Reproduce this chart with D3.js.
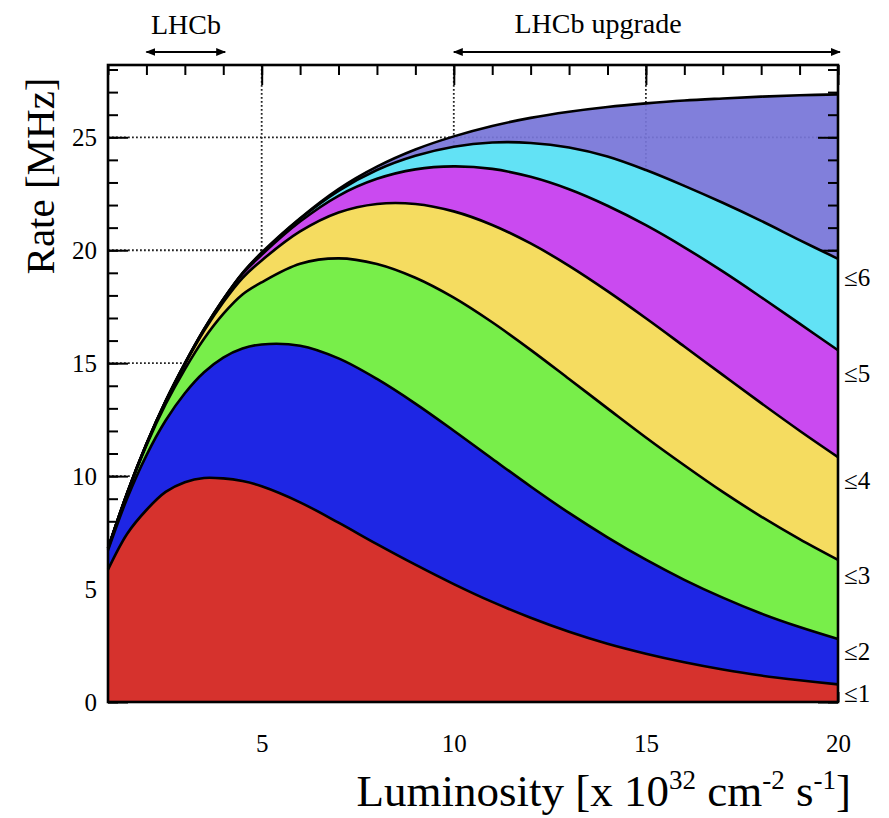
<!doctype html>
<html>
<head>
<meta charset="utf-8">
<title>LHCb rate vs luminosity</title>
<script src="https://cdn.jsdelivr.net/npm/d3@7"></script>
<style>
  html, body { margin: 0; padding: 0; background: #fff; }
  svg { display: block; }
  svg text { font-family: "Liberation Serif", "Times New Roman", Tinos, "DejaVu Serif", serif; fill: #000; }
</style>
</head>
<body>
<svg width="889" height="818"></svg>
<script>
// luminosity [x 10^32 cm^-2 s^-1]
const lumi = [1, 1.5, 2, 2.5, 3, 3.5, 4, 4.5, 5, 6, 7, 8, 9, 10, 11, 12, 13, 14, 15, 16, 17, 18, 19, 20];

// cumulative rates [MHz]
const rateLe1 = [5.86, 7.45, 8.50, 9.30, 9.73, 9.92, 9.90, 9.78, 9.55, 8.84, 7.94, 6.99, 6.08, 5.22, 4.43, 3.73, 3.11, 2.58, 2.14, 1.76, 1.44, 1.17, 0.96, 0.78];
const rateLe2 = [6.71, 9.02, 10.92, 12.46, 13.67, 14.60, 15.25, 15.65, 15.83, 15.77, 15.21, 14.30, 13.21, 12.01, 10.77, 9.54, 8.37, 7.29, 6.30, 5.41, 4.62, 3.92, 3.32, 2.79];
const rateLe3 = [6.79, 9.23, 11.36, 13.18, 14.73, 16.08, 17.18, 18.04, 18.58, 19.40, 19.64, 19.39, 18.78, 17.90, 16.81, 15.59, 14.30, 13.00, 11.71, 10.48, 9.30, 8.21, 7.21, 6.29];
const rateLe4 = [6.80, 9.26, 11.42, 13.30, 14.95, 16.43, 17.70, 18.77, 19.55, 20.83, 21.67, 22.05, 22.05, 21.72, 21.12, 20.30, 19.31, 18.19, 16.99, 15.74, 14.48, 13.23, 12.01, 10.84];
const rateLe5 = [6.80, 9.26, 11.42, 13.32, 14.98, 16.49, 17.81, 18.95, 19.80, 21.27, 22.41, 23.16, 23.58, 23.71, 23.60, 23.25, 22.70, 21.97, 21.11, 20.13, 19.06, 17.92, 16.75, 15.57];
const rateLe6 = [6.80, 9.26, 11.42, 13.32, 14.99, 16.50, 17.83, 18.98, 19.86, 21.39, 22.63, 23.55, 24.18, 24.58, 24.77, 24.75, 24.55, 24.15, 23.55, 22.85, 22.10, 21.30, 20.45, 19.62];
const rateAll = [6.80, 9.26, 11.42, 13.32, 14.99, 16.51, 17.83, 18.99, 19.90, 21.42, 22.71, 23.70, 24.46, 25.04, 25.50, 25.86, 26.13, 26.34, 26.50, 26.63, 26.72, 26.80, 26.86, 26.90];

const bandLabels = ["\u22641", "\u22642", "\u22643", "\u22644", "\u22645", "\u22646"];
const bandLabelRate = [0.4, 2.25, 5.6, 9.8, 14.55, 18.8];
const xTickLabels = [5, 10, 15, 20];
const yTickLabels = [0, 5, 10, 15, 20, 25];

const svg = d3.select("svg");
const frame = { left: 108, right: 838, top: 65, bottom: 702 };

const x = d3.scaleLinear().domain([1, 20]).range([frame.left, frame.right]);
const y = d3.scaleLinear().domain([0, 28.2]).range([frame.bottom, frame.top]);

const series = [
    { values: rateAll, color: "#7775d8" },
    { values: rateLe6, color: "#62e2f5" },
    { values: rateLe5, color: "#ca4af0" },
    { values: rateLe4, color: "#f5dc60" },
    { values: rateLe3, color: "#78ee4a" },
    { values: rateLe2, color: "#1e26e4" },
    { values: rateLe1, color: "#d6322d" }
];

const curve = d3.curveCatmullRom.alpha(0.5);
const area = d3.area()
    .x((d, i) => x(lumi[i]))
    .y0(y(0))
    .y1(d => y(d))
    .curve(curve);
const line = d3.line()
    .x((d, i) => x(lumi[i]))
    .y(d => y(d))
    .curve(curve);

// dotted grid
const grid = svg.append("g").attr("stroke", "#222").attr("stroke-width", 1.8).attr("stroke-dasharray", "1.8,2.2");
[5, 10, 15].forEach(v => {
    grid.append("line").attr("x1", x(v)).attr("x2", x(v)).attr("y1", frame.top).attr("y2", frame.bottom);
});
[5, 10, 15, 20, 25].forEach(v => {
    grid.append("line").attr("x1", frame.left).attr("x2", frame.right).attr("y1", y(v)).attr("y2", y(v));
});

// outer band first, so that the grid just shows through it
svg.append("path").datum(series[0].values).attr("d", area)
    .attr("fill", series[0].color).attr("fill-opacity", 0.93);

// inward ticks on all four sides
function ticks(axis, tx, ty) {
    const g = svg.append("g").attr("transform", "translate(" + tx + "," + ty + ")").call(axis);
    g.select(".domain").remove();
    g.selectAll("line").attr("stroke", "#000").attr("stroke-width", 2);
}
const xMinor = d3.range(1, 21), xMajor = [5, 10, 15, 20];
const yMinor = d3.range(0, 29), yMajor = [0, 5, 10, 15, 20, 25];
ticks(d3.axisBottom(x).tickValues(xMinor).tickSize(10).tickFormat(""), 0, frame.top);
ticks(d3.axisBottom(x).tickValues(xMajor).tickSize(20).tickFormat(""), 0, frame.top);
ticks(d3.axisTop(x).tickValues(xMinor).tickSize(10).tickFormat(""), 0, frame.bottom);
ticks(d3.axisRight(y).tickValues(yMinor).tickSize(10).tickFormat(""), frame.left, 0);
ticks(d3.axisRight(y).tickValues(yMajor).tickSize(20).tickFormat(""), frame.left, 0);
ticks(d3.axisLeft(y).tickValues(yMinor).tickSize(10).tickFormat(""), frame.right, 0);
ticks(d3.axisLeft(y).tickValues(yMajor).tickSize(20).tickFormat(""), frame.right, 0);

// remaining bands, outermost to innermost
series.slice(1).forEach(s => {
    svg.append("path").datum(s.values).attr("d", area).attr("fill", s.color);
});

// black curves
series.forEach(s => {
    svg.append("path").datum(s.values).attr("d", line)
        .attr("fill", "none").attr("stroke", "#000").attr("stroke-width", 2.6);
});

// frame
svg.append("rect")
    .attr("x", frame.left).attr("y", frame.top)
    .attr("width", frame.right - frame.left).attr("height", frame.bottom - frame.top)
    .attr("fill", "none").attr("stroke", "#000").attr("stroke-width", 2.6);

// tick labels
const yLab = svg.append("g").attr("transform", "translate(" + frame.left + ",0)")
    .call(d3.axisLeft(y).tickValues(yTickLabels).tickSize(0).tickPadding(11));
yLab.select(".domain").remove();
yLab.selectAll("text").attr("font-size", 25).attr("fill", "#000");

const xLab = svg.append("g").attr("transform", "translate(0," + frame.bottom + ")")
    .call(d3.axisBottom(x).tickValues(xTickLabels).tickSize(0).tickPadding(32));
xLab.select(".domain").remove();
xLab.selectAll("text").attr("font-size", 25).attr("fill", "#000");

// band labels on the right
svg.append("g").selectAll("text").data(bandLabels).enter().append("text")
    .attr("x", frame.right + 6)
    .attr("y", (d, i) => y(bandLabelRate[i]))
    .attr("dy", "0.35em")
    .attr("font-size", 25)
    .text(d => d);

// axis titles
svg.append("text")
    .attr("transform", "translate(54,176) rotate(-90)")
    .attr("text-anchor", "middle")
    .attr("font-size", 41)
    .text("Rate [MHz]");

const xt = svg.append("text")
    .attr("x", 851).attr("y", 806)
    .attr("text-anchor", "end")
    .attr("font-size", 45);
xt.append("tspan").text("Luminosity [x 10");
xt.append("tspan").attr("font-size", 27).attr("dy", -17).text("32");
xt.append("tspan").attr("dy", 17).text(" cm");
xt.append("tspan").attr("font-size", 27).attr("dy", -17).text("-2");
xt.append("tspan").attr("dy", 17).text(" s");
xt.append("tspan").attr("font-size", 27).attr("dy", -17).text("-1");
xt.append("tspan").attr("dy", 17).text("]");

// LHCb / LHCb upgrade ranges
const defs = svg.append("defs");
defs.append("marker").attr("id", "head")
    .attr("viewBox", "0 0 10 10").attr("refX", 9).attr("refY", 5)
    .attr("markerWidth", 10).attr("markerHeight", 10).attr("markerUnits", "userSpaceOnUse")
    .attr("orient", "auto-start-reverse")
    .append("path").attr("d", "M0,1 L10,5 L0,9 Z").attr("fill", "#000");

const ranges = [
    { name: "LHCb", from: 2, to: 4.05 },
    { name: "LHCb upgrade", from: 10, to: 20.05 }
];
ranges.forEach(r => {
    svg.append("line")
        .attr("x1", x(r.from)).attr("x2", x(r.to)).attr("y1", 52).attr("y2", 52)
        .attr("stroke", "#000").attr("stroke-width", 2.2)
        .attr("marker-start", "url(#head)").attr("marker-end", "url(#head)");
});
svg.append("text").attr("x", x(3.03)).attr("y", 34).attr("text-anchor", "middle")
    .attr("font-size", 28).text(ranges[0].name);
svg.append("text").attr("x", 598).attr("y", 33).attr("text-anchor", "middle")
    .attr("font-size", 28).text(ranges[1].name);
</script>
</body>
</html>
